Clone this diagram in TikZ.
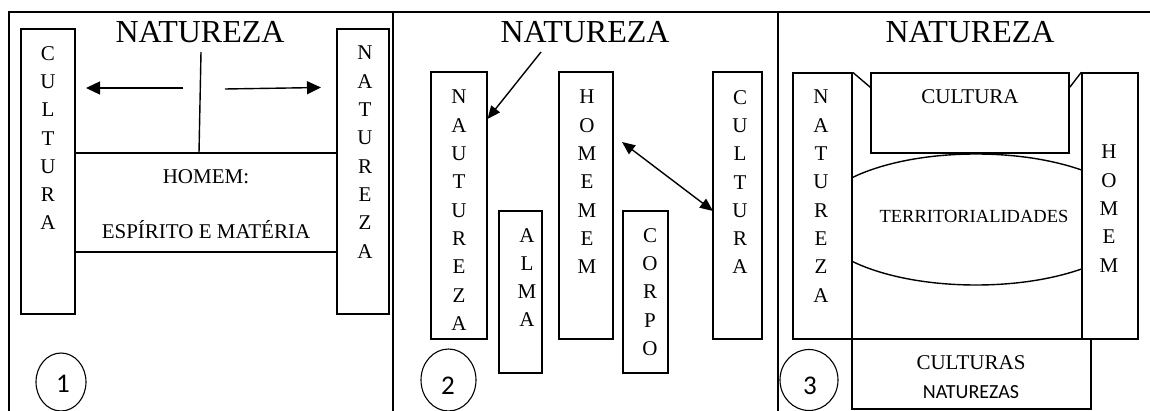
\documentclass[tikz,border=0pt]{standalone}
\usepackage{fontspec}
\setmainfont{Liberation Serif}
\newfontfamily\calib{Carlito}
\usetikzlibrary{arrows.meta,calc,shapes.geometric}
\begin{document}
\begin{tikzpicture}[x=1pt,y=-1pt,
  frame/.style={line width=2pt},
  box/.style={draw,line width=1.4pt,inner sep=0,minimum width=#1},
  letters/.style={font=\fontsize{21}{28.3}\selectfont,align=center,inner sep=0,anchor=north},
  title/.style={font=\fontsize{32}{36}\selectfont,inner sep=0},
  txt/.style={font=\fontsize{21}{24}\selectfont,inner sep=0},
  num/.style={draw,line width=1.1pt,ellipse,inner sep=0},
  digit/.style={font=\calib\fontsize{27}{30}\selectfont,inner sep=0},
  arr/.style={line width=1.4pt,-{Triangle[length=14pt,width=13pt]}},
  arrb/.style={line width=1.4pt,-{Triangle[length=13pt,width=11pt]}},
  darr/.style={line width=1.4pt,{Triangle[length=13pt,width=11pt]}-{Triangle[length=13pt,width=11pt]}}]
\useasboundingbox (0,0) rectangle (1150,411);
\fill[white] (0,0) rectangle (1150,411);
% frame
\draw[frame] (9,411) -- (9,12) -- (1150,12);
\draw[frame] (393,12) -- (393,411);
\draw[frame] (777.5,12) -- (777.5,411);

% ---------- Panel 1 ----------
\node[title] (t1) at (200,32) {NATUREZA};
\node[box=54, minimum height=285] (cult1) at (48,171.5) {};
\node[box=52, minimum height=285] (nat1) at (363,171.5) {};
\node[box=262, minimum height=99] (hom1) at (206,202.5) {};
\node[letters] (cult1l) at (48,46) {C\\U\\L\\T\\U\\R\\A};
\node[letters] (nat1l) at (365,46) {N\\A\\T\\U\\R\\E\\Z\\A};
\node[txt] (hom1a) at (206,177) {HOMEM:};
\node[txt] (hom1b) at (206,230) {ESPÍRITO E MATÉRIA};
\coordinate (l1a) at (201,52);
\coordinate (l1b) at (199,153);
\draw[line width=1.4pt] (l1a) -- (l1b);
\coordinate (a1s) at (183,88);
\coordinate (a1e) at (86,88);
\coordinate (a2s) at (225,89);
\coordinate (a2e) at (321,87.5);
\draw[arr] (a1s) -- (a1e);
\draw[arr] (a2s) -- (a2e);
\node[num, minimum width=50, minimum height=58] (c1) at (61,382) {};
\node[digit] (d1) at (63,384) {1};

% ---------- Panel 2 ----------
\node[title] (t2) at (585,32) {NATUREZA};
\node[box=56, minimum height=267] (nau2) at (459,205.5) {};
\node[box=43, minimum height=162] (alma2) at (520.5,292) {};
\node[box=54, minimum height=267] (hom2) at (586,205.5) {};
\node[box=45, minimum height=162] (corpo2) at (645.5,292) {};
\node[box=49, minimum height=267] (cult2) at (737.5,205.5) {};
\node[letters] (nau2l) at (459,90) {N\\A\\U\\T\\U\\R\\E\\Z\\A};
\node[letters] (alma2l) at (527,228) {A\\L\\M\\A};
\node[letters] (hom2l) at (587,90) {H\\O\\M\\E\\M\\E\\M};
\node[letters] (corpo2l) at (650,228) {C\\O\\R\\P\\O};
\node[letters] (cult2l) at (740,90) {C\\U\\L\\T\\U\\R\\A};
\coordinate (b1s) at (541,52);
\coordinate (b1e) at (487.5,119);
\draw[arrb] (b1s) -- (b1e);
\coordinate (b2s) at (622,142);
\coordinate (b2e) at (713,211);
\draw[darr] (b2s) -- (b2e);
\node[num, minimum width=55, minimum height=62] (c2) at (448.5,380) {};
\node[digit] (d2) at (448,386) {2};

% ---------- Panel 3 ----------
\node[title] (t3) at (970,32) {NATUREZA};
\begin{scope}
  \clip (852,100) rectangle (1082,300);
  \draw[line width=1.4pt] (976,219.5) ellipse [x radius=161, y radius=65.5];
\end{scope}
\node[box=59, minimum height=266] (nat3) at (822.5,206) {};
\node[box=56, minimum height=266] (hom3) at (1110,206) {};
\node[box=198, minimum height=80, fill=white] (cult3) at (970,113) {};
\node[box=239, minimum height=70] (cn3) at (971.5,374) {};
\node[letters] (nat3l) at (821,90) {N\\A\\T\\U\\R\\E\\Z\\A};
\node[letters] (hom3l) at (1109,145) {H\\O\\M\\E\\M};
\node[txt] (cult3t) at (970,97) {CULTURA};
\node[font=\fontsize{18.5}{22}\selectfont,inner sep=0] (terr) at (974,216) {TERRITORIALIDADES};
\node[txt] (cn3a) at (971,363) {CULTURAS};
\node[font=\calib\fontsize{20}{24}\selectfont,inner sep=0] (cn3b) at (971,392) {NATUREZAS};
\draw[line width=1.4pt] (nat3.north east) -- ($(cult3.north west)+(0,15)$);
\draw[line width=1.4pt] ($(cult3.north east)+(0,15)$) -- (hom3.north west);
\node[num, minimum width=58, minimum height=61] (c3) at (809,380) {};
\node[digit] (d3) at (810,386) {3};
\end{tikzpicture}
\end{document}
